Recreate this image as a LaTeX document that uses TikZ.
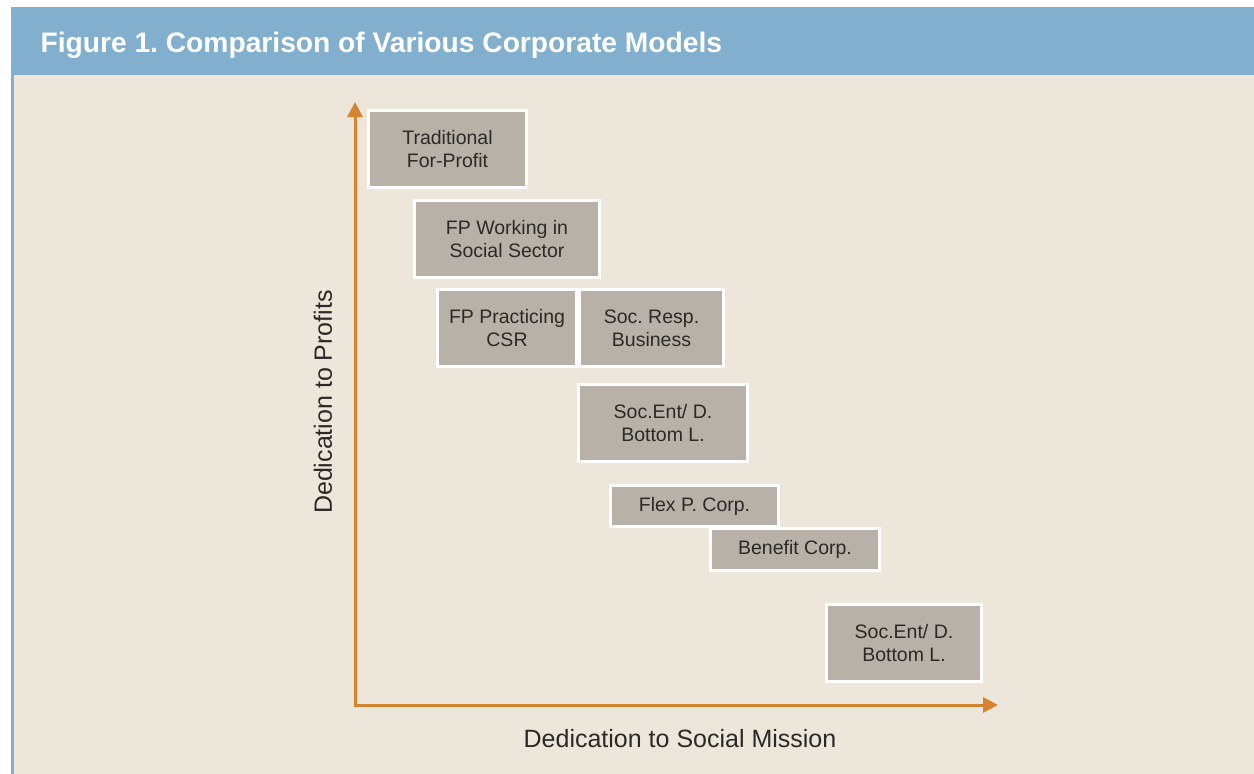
\documentclass[tikz,border=0pt]{standalone}
\usepackage{fontspec}
\setmainfont{Liberation Sans}
\usetikzlibrary{positioning,arrows.meta}
\frenchspacing

\definecolor{headblue}{RGB}{130,175,206}
\definecolor{panel}{RGB}{237,231,219}
\definecolor{boxgray}{RGB}{184,177,168}
\definecolor{axisorange}{RGB}{214,131,48}
\definecolor{ink}{RGB}{43,41,40}

\tikzset{
  model/.style={draw=white, line width=3pt, fill=boxgray, text=ink, align=center,
    inner sep=0pt, font=\fontsize{19.5}{23}\selectfont},
  axis/.style={draw=axisorange, line width=3pt, line join=miter,
    {Triangle[length=15pt,width=15pt]}-{Triangle[length=15pt,width=15pt]}},
  axislabel/.style={text=ink, font=\fontsize{25}{30}\selectfont}
}

\begin{document}
\begin{tikzpicture}[x=1pt, y=-1pt]
			\useasboundingbox[fill=white] (0,0) rectangle (1254,774);
			% frame and title bar
			\fill[headblue] (11,7) rectangle (1254,75);
			\fill[headblue] (11,75) rectangle (14,774);
			\fill[panel] (14,75) rectangle (1254,774);
			\node (title) [anchor=base west, text=white, font=\fontsize{28.2}{30}\bfseries\selectfont]
				at (37,52) {Figure 1. Comparison of Various Corporate Models};

			% axes
			\coordinate (origin) at (355,705);
			\coordinate (ytop) at (355,102);
			\coordinate (xend) at (998,705);
			\draw[axis] (ytop) -- (origin) -- (xend);
			\node (ylab) [axislabel, rotate=90] at (323,402) {Dedication to Profits};
			\node (xlab) [axislabel] at (680,739) {Dedication to Social Mission};

			% the models
			\node (trad) [model, minimum width=158pt, minimum height=77pt] at (447.5,149) {Traditional\\For-Profit};
			\node (fpsoc) [model, minimum width=185pt, minimum height=77pt] at (507,239) {FP Working in\\Social Sector};
			\node (csr) [model, minimum width=139pt, minimum height=77pt] at (507,328) {FP Practicing\\CSR};
			\node (srb) [model, minimum width=144pt, minimum height=77pt, right=0pt of csr] {Soc. Resp.\\Business};
			\node (socent) [model, minimum width=169pt, minimum height=77pt] at (663,423) {Soc.Ent/ D.\\Bottom L.};
			\node (flex) [model, minimum width=168pt, minimum height=41pt] at (694.5,506) {Flex P. Corp.};
			\node (benefit) [model, minimum width=169pt, minimum height=42pt] at (795,549.5) {Benefit Corp.};
			\node (socent2) [model, minimum width=155pt, minimum height=77pt] at (904,643) {Soc.Ent/ D.\\Bottom L.};
		\end{tikzpicture}
\end{document}
